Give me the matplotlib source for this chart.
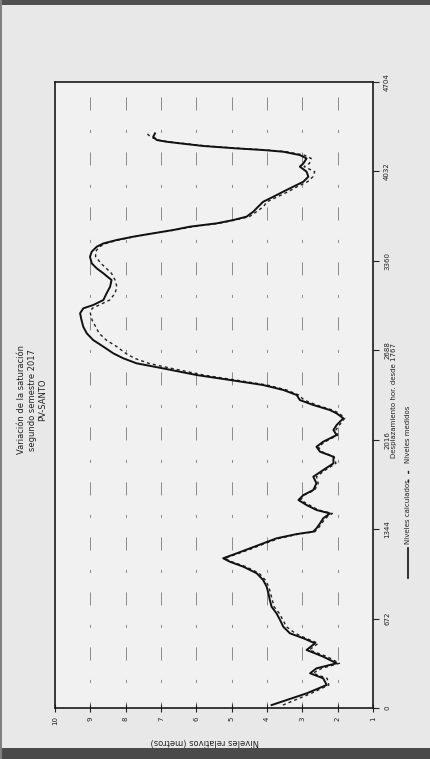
import matplotlib
matplotlib.use("Agg")
import matplotlib.pyplot as plt
from matplotlib.lines import Line2D
from matplotlib.patches import Rectangle

plt.rcParams.update({
    "font.family": "DejaVu Sans",
    "lines.scale_dashes": False,
})

# ── Data ──────────────────────────────────────────────────────────────────────
posicion = [22, 110, 173, 223, 261, 298, 336, 386, 436, 486, 524, 561, 611, 661,
            711, 761, 812, 862, 912, 962, 1012, 1062, 1099, 1125, 1162, 1200, 1237,
            1275, 1307, 1325, 1350, 1387, 1425, 1462, 1488, 1525, 1563, 1600, 1638,
            1688, 1738, 1788, 1838, 1888, 1926, 1963, 2001, 2051, 2089, 2126, 2177,
            2214, 2239, 2277, 2314, 2352, 2390, 2427, 2465, 2502, 2552, 2590, 2628,
            2665, 2715, 2765, 2815, 2865, 2915, 2966, 3003, 3028, 3066, 3116, 3166,
            3216, 3266, 3304, 3341, 3391, 3429, 3466, 3491, 3517, 3542, 3567, 3592,
            3617, 3642, 3667, 3692, 3729, 3767, 3804, 3842, 3880, 3917, 3955, 3992,
            4030, 4068, 4092, 4130, 4155, 4180, 4193, 4205, 4223, 4243, 4255, 4268,
            4293, 4318]

calculados = [3.87, 2.88, 2.31, 2.41, 2.78, 2.60, 2.03, 2.41, 2.88, 2.64, 2.97, 3.35,
              3.54, 3.63, 3.73, 3.87, 3.92, 3.96, 4.01, 4.11, 4.29, 4.67, 5.05, 5.24,
              4.86, 4.48, 4.11, 3.73, 3.16, 2.69, 2.60, 2.50, 2.41, 2.22, 2.60, 2.88,
              3.11, 2.97, 2.69, 2.60, 2.69, 2.41, 2.12, 2.12, 2.50, 2.60, 2.41, 2.03,
              2.12, 2.03, 1.84, 2.03, 2.22, 2.69, 3.07, 3.16, 3.54, 4.11, 5.05, 5.99,
              6.94, 7.69, 8.07, 8.35, 8.63, 8.92, 9.10, 9.20, 9.25, 9.29, 9.20, 8.92,
              8.63, 8.54, 8.44, 8.40, 8.63, 8.82, 8.96, 9.01, 8.96, 8.82, 8.63, 8.25,
              7.78, 7.22, 6.65, 6.18, 5.42, 4.95, 4.58, 4.39, 4.25, 4.11, 3.82, 3.54,
              3.26, 2.97, 2.83, 2.88, 3.07, 2.97, 2.88, 3.07, 3.54, 4.11, 4.86, 5.80,
              6.46, 6.84, 7.12, 7.22, 7.17]

medidos = [3.55, 2.75, 2.25, 2.30, 2.70, 2.45, 1.95, 2.30, 2.80, 2.55, 2.90, 3.20,
           3.45, 3.55, 3.65, 3.80, 3.85, 3.90, 3.95, 4.05, 4.22, 4.60, 5.00, 5.20,
           4.80, 4.40, 4.05, 3.65, 3.10, 2.65, 2.55, 2.45, 2.35, 2.15, 2.55, 2.80,
           3.05, 2.95, 2.65, 2.55, 2.60, 2.35, 2.05, 2.10, 2.45, 2.55, 2.35, 2.00,
           2.05, 1.95, 1.80, 1.95, 2.15, 2.60, 2.95, 3.10, 3.45, 4.00, 4.90, 5.80,
           6.70, 7.35, 7.75, 8.00, 8.25, 8.55, 8.75, 8.85, 8.95, 9.00, 8.95, 8.75,
           8.45, 8.30, 8.25, 8.30, 8.40, 8.55, 8.70, 8.85, 8.85, 8.75, 8.55, 8.20,
           7.75, 7.20, 6.60, 6.10, 5.35, 4.90, 4.50, 4.30, 4.10, 4.00, 3.70, 3.40,
           3.15, 2.85, 2.70, 2.65, 2.95, 2.80, 2.75, 2.95, 3.45, 4.00, 4.75, 5.70,
           6.40, 6.80, 7.10, 7.30, 7.40]

pos_ticks = [0, 672, 1344, 2016, 2688, 3360, 4032, 4704]
nivel_ticks = [10, 9, 8, 7, 6, 5, 4, 3, 2, 1]

titulo = ["Variación de la saturación", "segundo semestre 2017", "PV-SANTO"]
leyenda = ["Niveles calculados", "Niveles medidos"]

# ── Figure (page turned sideways: position runs up, level runs right-to-left) ─
W, H = 431, 759
fig = plt.figure(figsize=(W / 100, H / 100), dpi=100, facecolor="#e8e8e8")


def fx(px):
    return px / W


def fy(py):
    return 1 - py / H


# dark edges of the scanned sheet
fig.add_artist(Rectangle((0, fy(5)), 1, 5 / H, transform=fig.transFigure,
                         color="#505050", lw=0))
fig.add_artist(Rectangle((0, 0), 1, fy(748), transform=fig.transFigure,
                         color="#4a4a4a", lw=0))
fig.add_artist(Rectangle((0, 0), 2 / W, 1, transform=fig.transFigure,
                         color="#808080", lw=0))

ax = fig.add_axes([fx(55), fy(708), fx(373) - fx(55), fy(82) - fy(708)])
ax.set_facecolor("#f1f1f1")

for v in range(2, 10):
    ax.axvline(v, color="#7a7a7a", lw=0.6, ls=(5, (9.4, 14, 2.2, 14)), zorder=1)

ax.plot(calculados, posicion, color="#111111", lw=1.4, zorder=3)
ax.plot(medidos, posicion, color="#222222", lw=1.0, ls=(0, (2.2, 2.2)), zorder=2)

ax.set_xlim(10, 1)
ax.set_ylim(0, 4704)
ax.set_xticks(nivel_ticks)
ax.set_xticklabels([str(v) for v in nivel_ticks])
ax.set_yticks(pos_ticks)
ax.set_yticklabels([str(p) for p in pos_ticks])
ax.yaxis.tick_right()
ax.tick_params(axis="x", direction="inout", length=6, width=0.8, labelsize=5,
               labelrotation=90, pad=3, colors="#222222")
ax.tick_params(axis="y", direction="out", length=4, width=0.8, labelsize=5,
               labelrotation=90, pad=4, colors="#222222")
for lab in ax.get_yticklabels():
    lab.set_va("center")
for s in ax.spines.values():
    s.set_linewidth(1.2)
    s.set_color("#1a1a1a")

# axis titles
fig.text(fx(205), fy(742), "Niveles relativos (metros)", rotation=180,
         ha="center", va="center", fontsize=6, color="#222222")
fig.text(fx(394), fy(400), "Desplazamiento hor. desde 1767", rotation=90,
         ha="center", va="center", fontsize=5, color="#222222")

# title block
for x, line in zip([22, 33, 43], titulo):
    fig.text(fx(x), fy(400), line, rotation=90, ha="center", va="center",
             fontsize=6, color="#222222")

# legend, written along the right edge
lx = fx(408)
fig.add_artist(Line2D([lx, lx], [fy(578), fy(548)], transform=fig.transFigure,
                      color="#111111", lw=1.2))
fig.text(lx, fy(544), leyenda[0], rotation=90, ha="center", va="bottom",
         fontsize=5, color="#222222")
fig.add_artist(Line2D([lx, lx], [fy(482), fy(468)], transform=fig.transFigure,
                      color="#222222", lw=1.0, ls=(0, (2.2, 4))))
fig.text(lx, fy(463), leyenda[1], rotation=90, ha="center", va="bottom",
         fontsize=5, color="#222222")

fig.savefig("out.png", dpi=100, facecolor=fig.get_facecolor())
